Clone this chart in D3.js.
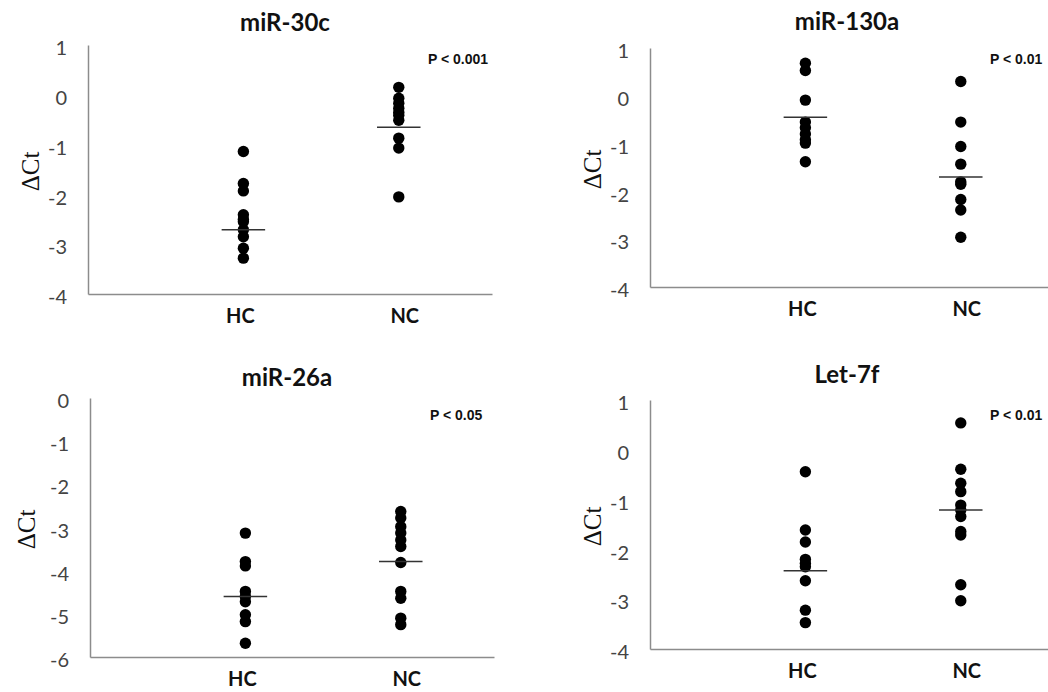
<!DOCTYPE html>
<meta charset="utf-8">
<script src="https://d3js.org/d3.v7.min.js"></script>
<style>
  body { margin: 0; background: #fff; }
  .tick text { font-family: Lato, "Open Sans", sans-serif; font-size: 20px; fill: #444; }
  .domain { stroke: #8c8c8c; stroke-width: 1.5px; }
</style>
<div id="chart"></div>
<script>

// categories and labels
var groups = ["HC", "NC"];
var titles = ["miR-30c", "miR-130a", "miR-26a", "Let-7f"];
var pLabels = ["P < 0.001", "P < 0.01", "P < 0.05", "P < 0.01"];

// y tick labels per panel
var ticks30c = [1, 0, -1, -2, -3, -4];
var ticks130a = [1, 0, -1, -2, -3, -4];
var ticks26a = [0, -1, -2, -3, -4, -5, -6];
var ticksLet7f = [1, 0, -1, -2, -3, -4];

// delta Ct values
var mir30cHC = [-1.14, -1.78, -1.93, -2.41, -2.5, -2.55, -2.71, -2.85, -3.08, -3.28];
var mir30cNC = [0.15, -0.07, -0.17, -0.27, -0.35, -0.41, -0.51, -0.87, -1.07, -2.05];
var mir130aHC = [0.68, 0.53, -0.09, -0.55, -0.67, -0.8, -0.92, -0.99, -1.38];
var mir130aNC = [0.3, -0.55, -1.06, -1.43, -1.8, -1.85, -2.17, -2.39, -2.96];
var mir26aHC = [-3.13, -3.79, -3.89, -4.48, -4.6, -4.72, -5.02, -5.18, -5.68];
var mir26aNC = [-2.63, -2.78, -2.98, -3.13, -3.29, -3.44, -3.81, -4.48, -4.64, -5.1, -5.25];
var let7fHC = [-0.44, -1.61, -1.85, -2.2, -2.28, -2.35, -2.63, -3.22, -3.47];
var let7fNC = [0.54, -0.39, -0.67, -0.84, -1.11, -1.21, -1.34, -1.64, -1.71, -2.71, -3.03];

// group means (short horizontal bars)
var mean30c = [-2.71, -0.65];
var mean130a = [-0.45, -1.7];
var mean26a = [-4.6, -3.79];
var meanLet7f = [-2.43, -1.21];

var panels = [
  {left: 88,  top: 45,  bottom: 294, ticks: ticks30c,   values: [mir30cHC, mir30cNC],   means: mean30c,   titleY: 23,  pY: 14},
  {left: 650, top: 48,  bottom: 287, ticks: ticks130a,  values: [mir130aHC, mir130aNC], means: mean130a,  titleY: 22,  pY: 11},
  {left: 90,  top: 398, bottom: 657, ticks: ticks26a,   values: [mir26aHC, mir26aNC],   means: mean26a,   titleY: 378, pY: 17},
  {left: 650, top: 400, bottom: 649, ticks: ticksLet7f, values: [let7fHC, let7fNC],     means: meanLet7f, titleY: 375, pY: 15}
];

var svg = d3.select("#chart")
  .append("svg")
    .attr("width", 1048)
    .attr("height", 692);

panels.forEach(function(p, i) {
  var g = svg.append("g")
    .attr("transform", "translate(" + p.left + ",0)");

  // x: groups sit at 1 and 2 like an Excel scatter
  var x = d3.scaleLinear()
    .domain([0, 2.6])
    .range([0, 404]);

  var y = d3.scaleLinear()
    .domain([d3.min(p.ticks), d3.max(p.ticks)])
    .range([p.bottom, p.top]);

  // Y axis
  var yAxis = g.append("g")
    .call(d3.axisLeft(y)
      .tickValues(p.ticks)
      .tickFormat(function(d) { return String(d); })
      .tickSize(0).tickPadding(21).tickSizeOuter(0));
  yAxis.selectAll(".tick text").attr("dy", "0.48em");

  // X axis (line only)
  g.append("g")
    .attr("transform", "translate(0," + p.bottom + ")")
    .call(d3.axisBottom(x).tickValues([]).tickSizeOuter(0));

  // group labels
  g.selectAll(".grp")
    .data(groups)
    .enter()
    .append("text")
      .attr("x", function(d, j) { return x(j + 1) + (j == 0 ? -3 : 6); })
      .attr("y", p.bottom + 29)
      .attr("text-anchor", "middle")
      .style("font-family", "Lato, sans-serif")
      .style("font-weight", "bold")
      .style("font-size", "20px")
      .style("fill", "#111")
      .text(function(d) { return d; });

  // dots
  p.values.forEach(function(vals, j) {
    g.selectAll(".dot" + j)
      .data(vals)
      .enter()
      .append("circle")
        .attr("cx", x(j + 1))
        .attr("cy", function(d) { return y(d); })
        .attr("r", 5.7)
        .attr("fill", "#000");
  });

  // mean bars
  g.selectAll(".mean")
    .data(p.means)
    .enter()
    .append("line")
      .attr("x1", function(d, j) { return x(j + 1 - 0.14); })
      .attr("x2", function(d, j) { return x(j + 1 + 0.14); })
      .attr("y1", function(d) { return y(d); })
      .attr("y2", function(d) { return y(d); })
      .attr("stroke", "#333")
      .attr("stroke-width", 1.5);

  // title
  g.append("text")
    .attr("x", 197)
    .attr("y", p.titleY)
    .attr("dy", "0.35em")
    .attr("text-anchor", "middle")
    .style("font-family", "Lato, sans-serif")
    .style("font-weight", "bold")
    .style("font-size", "24px")
    .style("fill", "#111")
    .text(titles[i]);

  // p value
  g.append("text")
    .attr("x", 340)
    .attr("y", p.top + p.pY)
    .attr("dy", "0.35em")
    .style("font-family", "'Liberation Sans Narrow', 'Liberation Sans', sans-serif")
    .style("font-weight", "bold")
    .style("font-size", "14px")
    .style("fill", "#111")
    .text(pLabels[i]);

  // y label
  var ly = (p.top + p.bottom) / 2 + 2;
  g.append("text")
    .attr("transform", "translate(" + (i == 2 ? -64 : -58) + "," + ly + ") rotate(-90)")
    .attr("dy", "0.35em")
    .attr("text-anchor", "middle")
    .style("font-family", "'Liberation Serif', 'DejaVu Serif', serif")
    .style("font-size", "25px")
    .style("fill", "#111")
    .text("ΔCt");
});

</script>
